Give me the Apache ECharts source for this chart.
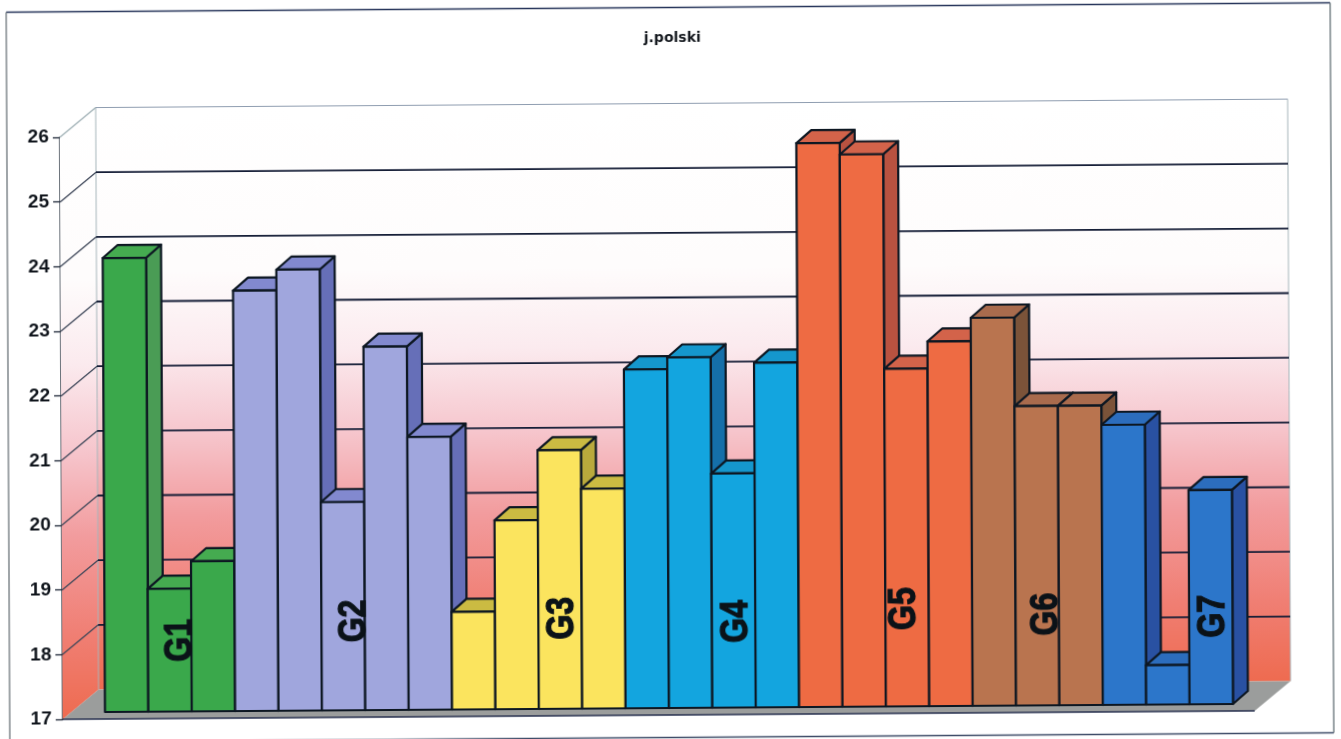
<!DOCTYPE html>
<html><head><meta charset="utf-8">
<style>
html,body{margin:0;padding:0;background:#fff;overflow:hidden}
#c{width:1341px;height:739px;transform:matrix(1,-0.0071,0.005,1,0,0);transform-origin:670.5px 369.5px}
</style>
<script src="https://cdn.jsdelivr.net/npm/echarts@6/dist/echarts.min.js"></script>
</head><body><div id="c"></div>
<script>
const chartTitle = 'j.polski';
const yTicks = [17,18,19,20,21,22,23,24,25,26];
const g1 = [24.02,18.90,19.32];
const g2 = [23.50,23.82,20.22,22.62,21.22];
const g3 = [18.51,19.92,21.00,20.40];
const g4 = [22.24,22.42,20.62,22.33];
const g5 = [25.72,25.54,22.22,22.64];
const g6 = [23.00,21.63,21.63];
const g7 = [21.33,17.61,20.31];
const groupValues = [g1,g2,g3,g4,g5,g6,g7];
const groupNames = ['G1','G2','G3','G4','G5','G6','G7'];
const labelPos = [1.75,5.75,10.55,14.57,18.43,21.70,25.56];
const labelVal = [18.10,18.38,18.40,18.33,18.51,18.41,18.36];
const faceColors = [
  ['#3aa84b','#45ab50','#4a9c55'],
  ['#a0a6dd','#8289cf','#666fb8'],
  ['#fbe45e','#cbbb42','#b9aa3c'],
  ['#13a5df','#1597cd','#156fa9'],
  ['#ee6b43','#d3634a','#b95240'],
  ['#b9744f','#a96b4d','#7b5339'],
  ['#2c76ca','#2c6dbd','#2951a2']
];
const depth = [36,-29.5];
const barOffset = [15,-13];

const barValues = [], barGroups = [];
groupValues.forEach((vals,g)=>vals.forEach(v=>{barValues.push(v);barGroups.push(g);}));
const cats = barValues.map((_,i)=>String(i+1));

const wallFill = ()=>({type:'linear',x:0,y:0,x2:0,y2:1,colorStops:[
  {offset:0,color:'#ffffff'},{offset:.28,color:'#fefcfc'},{offset:.42,color:'#fbeaee'},
  {offset:.56,color:'#f6c6cd'},{offset:.7,color:'#f29c9e'},{offset:.86,color:'#f07f74'},{offset:1,color:'#ee6b50'}]});

function renderWalls(params,api){
  const a=api.coord([0,yTicks[0]]), b=api.coord([1,yTicks[0]]), t=api.coord([0,yTicks[yTicks.length-1]]), r=api.coord([1,yTicks[yTicks.length-1]]);
  const o=depth;
  const add=p=>[p[0]+o[0],p[1]+o[1]];
  return {type:'group',children:[
    {type:'polygon',shape:{points:[add(t),add(r),add(b),add(a)]},style:{fill:wallFill()}},
    {type:'polygon',shape:{points:[t,add(t),add(a),a]},style:{fill:wallFill()}},
    {type:'polygon',shape:{points:[a,b,add(b),add(a)]},style:{fill:'#9b9d9c'}},
    {type:'line',shape:{x1:add(t)[0],y1:add(t)[1],x2:add(a)[0],y2:add(a)[1]},style:{stroke:'#a7b6bb',lineWidth:1}},
    {type:'line',shape:{x1:add(r)[0],y1:add(r)[1],x2:add(b)[0],y2:add(b)[1]},style:{stroke:'#a7b6bb',lineWidth:1}},
    {type:'line',shape:{x1:a[0],y1:a[1],x2:b[0],y2:b[1]},style:{stroke:'#27304f',lineWidth:1.5}}
  ]};
}
function renderGrid(params,api){
  const v=api.value(0);
  const p=api.coord([0,v]), q=api.coord([1,v]);
  const top=v===yTicks[yTicks.length-1];
  const bottom=v===yTicks[0];
  if(bottom) return {type:'group',children:[]};
  const col=top?'#8f9db0':'#141d36', lw=top?1:1.8;
  const px=p[0]+depth[0],py=p[1]+depth[1];
  return {type:'group',children:[
    {type:'line',shape:{x1:p[0],y1:p[1],x2:px,y2:py},style:{stroke:top?'#9fb0b5':'#3e4759',lineWidth:1.3}},
    {type:'line',shape:{x1:px,y1:py,x2:q[0]+depth[0],y2:q[1]+depth[1]},style:{stroke:col,lineWidth:lw}}
  ]};
}
function renderBar(params,api){
  const i=api.value(0), v=api.value(1), g=api.value(2);
  const top=api.coord([i,v]), base=api.coord([i,yTicks[0]]);
  const w=api.size([1,0])[0];
  const l=top[0]-w/2, r=top[0]+w/2, y=top[1], b=base[1];
  const dx=barOffset[0], dy=barOffset[1];
  const c=faceColors[g];
  const st=f=>({fill:f,stroke:'#0d1722',lineWidth:2.2,lineJoin:'round'});
  return {type:'group',children:[
    {type:'polygon',shape:{points:[[r,y],[r+dx,y+dy],[r+dx,b+dy],[r,b]]},style:st(c[2])},
    {type:'polygon',shape:{points:[[l,y],[l+dx,y+dy],[r+dx,y+dy],[r,y]]},style:st(c[1])},
    {type:'rect',shape:{x:l,y:y,width:w,height:b-y},style:st(c[0])}
  ]};
}
function renderLabel(params,api){
  const p=api.coord([api.value(0),api.value(1)]);
  return {type:'text',x:p[0],y:p[1],rotation:Math.PI/2,scaleX:1,scaleY:1.22,
    style:{text:groupNames[params.dataIndex],fill:'#0b1218',stroke:'#0b1218',lineWidth:1,font:'bold 32px "Liberation Sans"',align:'center',verticalAlign:'middle'}};
}

const chart=echarts.init(document.getElementById('c'),null,{renderer:'canvas',width:1341,height:739});
chart.setOption({
  animation:false,
  backgroundColor:'#ffffff',
  title:{text:chartTitle,left:669,top:26,textAlign:'center',textStyle:{fontFamily:'DejaVu Sans',fontWeight:'bold',fontSize:14,color:'#15191f'}},
  graphic:[
    {type:'line',shape:{x1:8,y1:7.5,x2:1332,y2:7.5},style:{stroke:'#26345a',lineWidth:1.6},silent:true},
    {type:'line',shape:{x1:8,y1:737.5,x2:1332,y2:737.5},style:{stroke:'#3e4c68',lineWidth:1.4},silent:true},
    {type:'line',shape:{x1:8,y1:7.5,x2:8,y2:737.5},style:{stroke:'#777f84',lineWidth:1.4},silent:true},
    {type:'line',shape:{x1:1332,y1:7.5,x2:1332,y2:737.5},style:{stroke:'#6f7b80',lineWidth:1.4},silent:true}
  ],
  grid:[
    {left:61,top:133,width:1192,height:582},
    {left:103.3,top:126,width:1128,height:582}
  ],
  xAxis:[
    {gridIndex:0,type:'value',min:0,max:1,show:false},
    {gridIndex:1,type:'category',data:cats,show:false},
    {gridIndex:1,type:'value',min:0,max:cats.length,show:false}
  ],
  yAxis:[
    {gridIndex:0,type:'value',min:17,max:26,interval:1,
      axisLine:{show:true,lineStyle:{color:'#3c4650',width:1.5}},
      axisTick:{show:true,length:7,lineStyle:{color:'#1c2636',width:1.3}},
      splitLine:{show:false},
      axisLabel:{fontFamily:'Liberation Sans',fontSize:19,fontWeight:'bold',color:'#10151c',margin:11}},
    {gridIndex:1,type:'value',min:17,max:26,show:false,splitLine:{show:false}}
  ],
  series:[
    {type:'custom',xAxisIndex:0,yAxisIndex:0,z:1,silent:true,clip:false,renderItem:renderWalls,data:[[0]]},
    {type:'custom',xAxisIndex:0,yAxisIndex:0,z:2,silent:true,clip:false,renderItem:renderGrid,encode:{y:0},data:yTicks.map(v=>[v])},
    {type:'custom',xAxisIndex:1,yAxisIndex:1,z:3,silent:true,clip:false,renderItem:renderBar,encode:{x:0,y:1},
      data:barValues.map((v,i)=>[i,v,barGroups[i]])},
    {type:'custom',xAxisIndex:2,yAxisIndex:1,z:4,silent:true,clip:false,renderItem:renderLabel,encode:{x:0,y:1},
      data:labelPos.map((p,i)=>[p,labelVal[i]])}
  ]
});
</script></body></html>
